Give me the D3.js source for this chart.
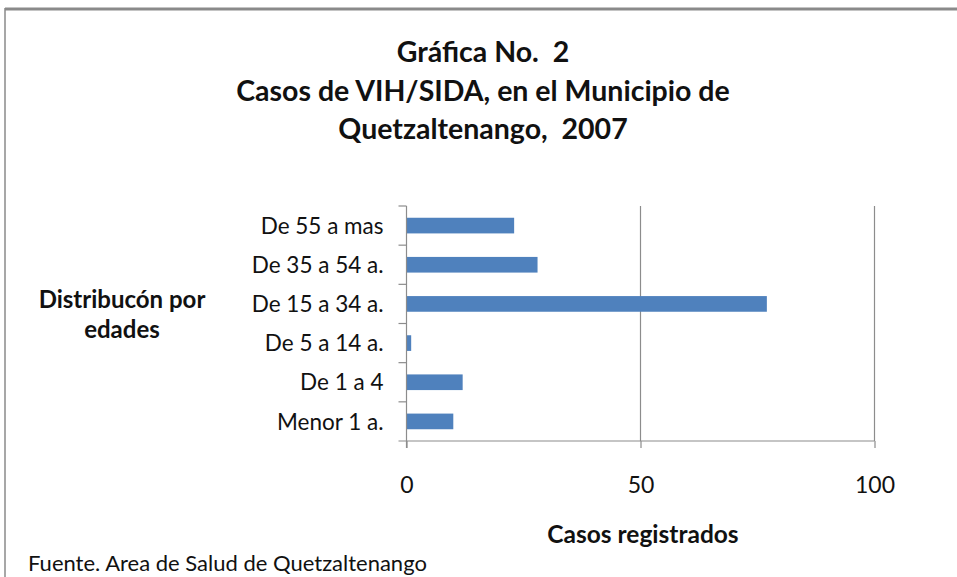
<!DOCTYPE html>
<html>
<head>
<meta charset="utf-8">
<script src="https://cdn.jsdelivr.net/npm/d3@7"></script>
<style>
  body { margin: 0; background: #fff; }
  svg { display: block; font-family: Lato, "Open Sans", sans-serif; }
  text { white-space: pre; }
</style>
</head>
<body>
<div class="chart"></div>
<script>
// age groups, bottom to top as in the original
var categories = ["Menor 1 a.", "De 1 a 4", "De 5 a 14 a.", "De 15 a 34 a.", "De 35 a 54 a.", "De 55 a mas"];
var casos = [10, 12, 1, 77, 28, 23];
var xTicks = [0, 50, 100];

var titleLines = ["Gráfica No.  2", "Casos de VIH/SIDA, en el Municipio de", "Quetzaltenango,  2007"];

const width = 957, height = 577;
const plot = {left: 406.5, right: 874.5, top: 206, bottom: 441};
const axisColor = "#8c8c8c";

var svg = d3.select(".chart").append("svg")
  .attr("width", width)
  .attr("height", height);

// frame of the chart area (only top and left show in the picture)
svg.append("line").attr("x1", 5).attr("x2", width).attr("y1", 9).attr("y2", 9)
  .attr("stroke", "#8a8a8a").attr("stroke-width", 3);
svg.append("line").attr("x1", 5).attr("x2", 5).attr("y1", 8).attr("y2", height)
  .attr("stroke", "#8a8a8a").attr("stroke-width", 1.5);

var x = d3.scaleLinear().domain([0, 100]).range([plot.left, plot.right]);
var y = d3.scaleBand().domain(categories.slice().reverse())
  .range([plot.top, plot.bottom]).paddingInner(0.6).paddingOuter(0.3);
var yLine = d3.scaleBand().domain(categories.slice().reverse())
  .range([plot.top, plot.bottom]);

// gridlines
svg.append("g").selectAll("line").data(xTicks.slice(1)).enter().append("line")
  .attr("x1", d => x(d)).attr("x2", d => x(d))
  .attr("y1", plot.top).attr("y2", plot.bottom)
  .attr("stroke", axisColor).attr("stroke-width", 1.2);

// bars
svg.append("g").selectAll("rect").data(categories).enter().append("rect")
  .attr("x", x(0))
  .attr("y", d => y(d))
  .attr("width", (d, i) => x(casos[i]) - x(0))
  .attr("height", y.bandwidth())
  .attr("fill", "#4f81bd");

// x axis
var xAxis = svg.append("g")
  .attr("transform", "translate(0," + plot.bottom + ")")
  .call(d3.axisBottom(x).tickValues(xTicks).tickSize(7));
xAxis.select(".domain").attr("stroke", axisColor).attr("stroke-width", 1.2)
  .attr("d", "M" + (plot.left - 8) + ",0H" + plot.right);
xAxis.selectAll(".tick line").attr("stroke", axisColor).attr("stroke-width", 1.2);
xAxis.selectAll(".tick text")
  .attr("y", 52).attr("dy", null)
  .attr("fill", "#111").style("font-size", "23px")
  .style("font-family", "Lato, sans-serif");

// y axis, ticks between categories
var yAxis = svg.append("g").attr("transform", "translate(" + plot.left + ",0)");
yAxis.append("line").attr("y1", plot.top).attr("y2", plot.bottom + 7)
  .attr("stroke", axisColor).attr("stroke-width", 1.2);
yAxis.selectAll(".sep").data(categories.slice().reverse()).enter().append("line")
  .attr("class", "sep")
  .attr("x1", -8).attr("x2", 0)
  .attr("y1", d => yLine(d)).attr("y2", d => yLine(d))
  .attr("stroke", axisColor).attr("stroke-width", 1.2);
yAxis.selectAll("text").data(categories).enter().append("text")
  .attr("x", -23)
  .attr("y", d => yLine(d) + yLine.bandwidth() / 2)
  .attr("dy", "0.36em")
  .attr("text-anchor", "end")
  .attr("fill", "#111")
  .style("font-size", "22.5px")
  .text(d => d);

// title
svg.append("g").selectAll("text").data(titleLines).enter().append("text")
  .attr("x", 483)
  .attr("y", (d, i) => 62 + i * 38.5)
  .attr("text-anchor", "middle")
  .attr("fill", "#111")
  .style("font-size", "28.5px")
  .style("font-weight", "bold")
  .text(d => d);

// axis titles
svg.append("text").attr("x", 643).attr("y", 543)
  .attr("text-anchor", "middle").attr("fill", "#111")
  .style("font-size", "24.5px").style("font-weight", "bold")
  .text("Casos registrados");

svg.append("g").selectAll("text").data(["Distribucón por", "edades"]).enter().append("text")
  .attr("x", 122)
  .attr("y", (d, i) => 308 + i * 30)
  .attr("text-anchor", "middle").attr("fill", "#111")
  .style("font-size", "24px").style("font-weight", "bold")
  .text(d => d);

// source note
svg.append("text").attr("x", 28).attr("y", 571)
  .attr("fill", "#111").style("font-size", "22px")
  .text("Fuente. Area de Salud de Quetzaltenango");
</script>
</body>
</html>
